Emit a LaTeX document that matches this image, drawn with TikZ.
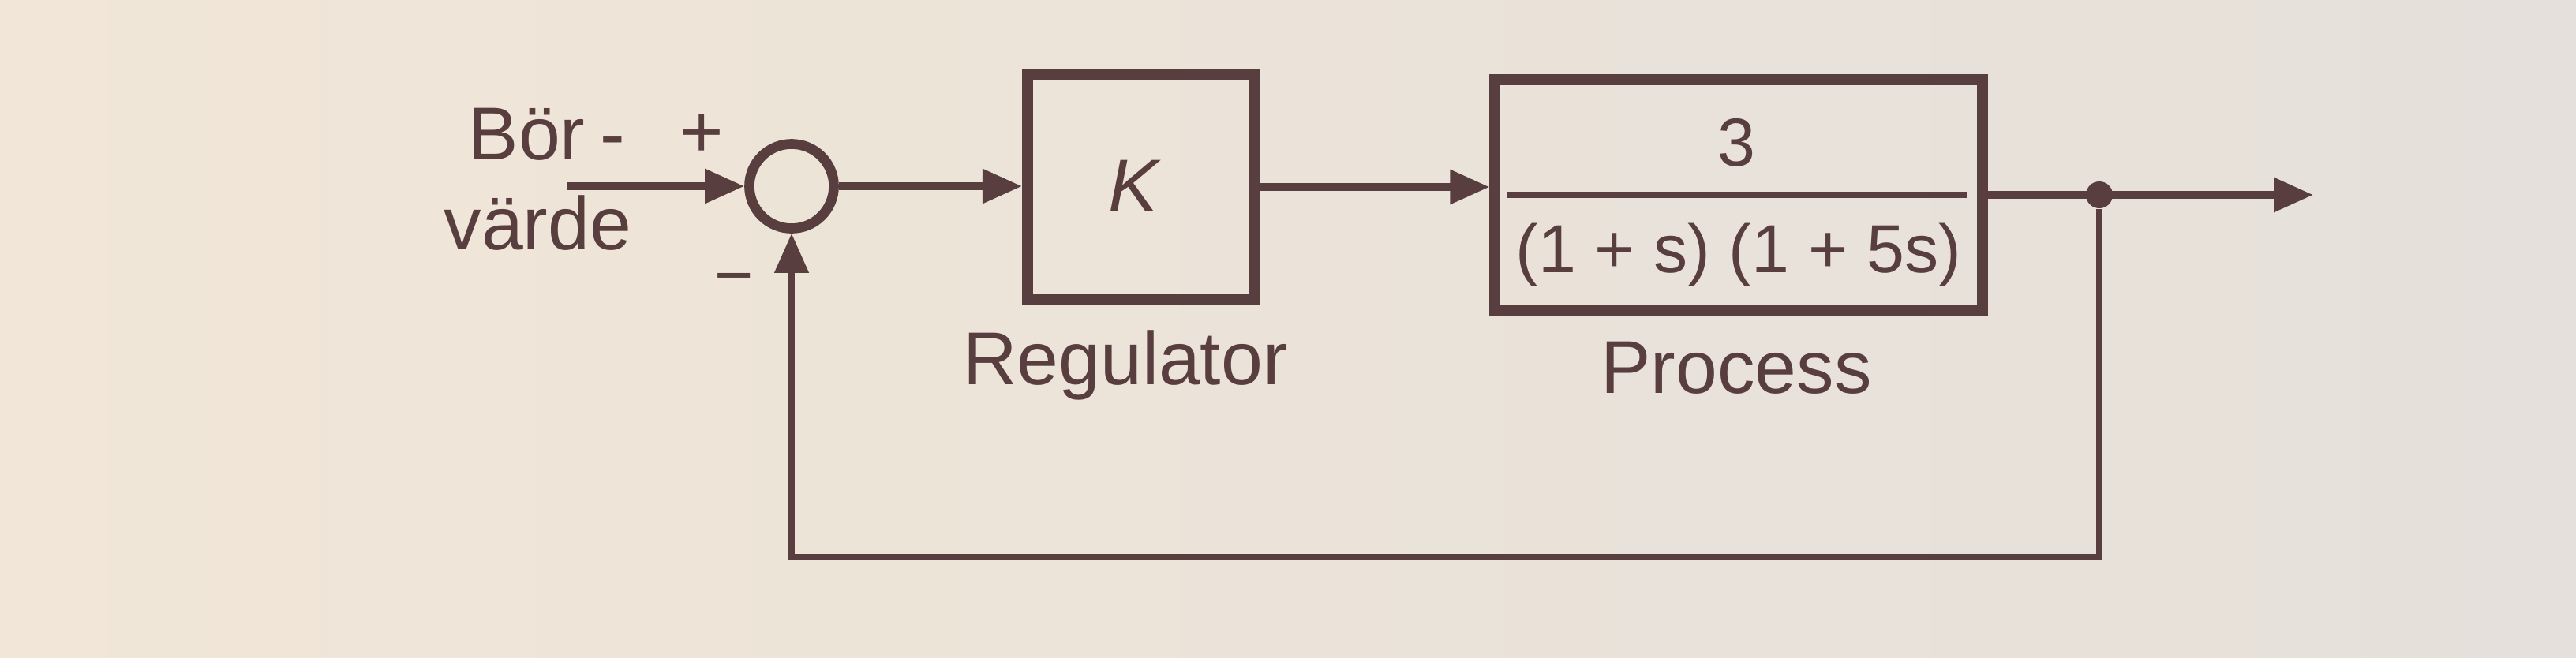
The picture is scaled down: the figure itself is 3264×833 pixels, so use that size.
\documentclass[tikz,border=0pt]{standalone}
\usepackage{fontspec}
\setmainfont{Liberation Sans}
\usetikzlibrary{arrows.meta,calc}
\definecolor{ink}{RGB}{88,62,62}
\definecolor{paperL}{RGB}{241,230,215}
\definecolor{paperR}{RGB}{229,224,219}
\begin{document}
\begin{tikzpicture}[x=0.01cm,y=0.01cm,
  blockbox/.style={draw=ink, line width=4pt, inner sep=0pt, text=ink},
  sumnode/.style={circle, draw=ink, line width=3.6pt, minimum size=1.07cm, inner sep=0pt},
  conn/.style={draw=ink, line width=2.6pt, -{Triangle[length=5mm,width=4.2mm]}},
  fbline/.style={draw=ink, line width=2.2pt, -{Triangle[length=5mm,width=4.2mm]}},
  lbl/.style={text=ink, inner sep=0pt, font=\fontsize{27}{30}\selectfont},
  boxtxt/.style={text=ink, inner sep=0pt, font=\fontsize{24.5}{28}\selectfont},
  dotnode/.style={circle, fill=ink, minimum size=0.34cm, inner sep=0pt}]
\shade[left color=paperL,right color=paperR] (0,0) rectangle (3264,-833);
\useasboundingbox (0,0) rectangle (3264,-833);

% blocks
\node[sumnode] (sum) at (1003,-236) {};
\node[blockbox, minimum width=2.88cm, minimum height=2.85cm] (reg) at (1446,-237) {};
\node[blockbox, minimum width=6.17cm, minimum height=2.92cm] (proc) at (2203,-247) {};

% texts
\node[lbl, font=\fontsize{27}{30}\selectfont\itshape] (K) at (1436,-236) {K};
\node[lbl, anchor=base] (reglbl) at (1426,-487) {Regulator};
\node[lbl, anchor=base] (proclbl) at (2200,-498) {Process};
\node[lbl, anchor=base west] (bor) at (593,-202) {Bör\kern0.2em-};
\node[lbl, anchor=base west] (varde) at (562,-316) {värde};
\node[lbl] (plus) at (889,-172) {+};
\node[lbl, font=\fontsize{24}{28}\selectfont] (minus) at (930,-362) {−};
\node[boxtxt] (num) at (2200,-181) {3};
\node[boxtxt] (den) at (2203,-323) {(1 + s) (1 + 5s)};
\draw[ink, line width=2pt] ($(proc.west)+(23,0)$) coordinate (fl) -- ($(proc.east)+(-27,0)$) coordinate (fr);

% connectors
\coordinate (in) at (718,-236);
\coordinate (out) at (2931,-247);
\coordinate (fbL) at (1003,-706);
\draw[conn] (in) -- (sum.west);
\draw[conn] (sum.east) -- (sum.east -| reg.west);
\draw[conn] (reg.east) -- (reg.east -| proc.west);
\draw[conn] (proc.east) -- (out);
\node[dotnode] (dot) at (2660,-247) {};
\draw[fbline] (dot) |- (fbL) -- (sum.south);
\end{tikzpicture}
\end{document}
